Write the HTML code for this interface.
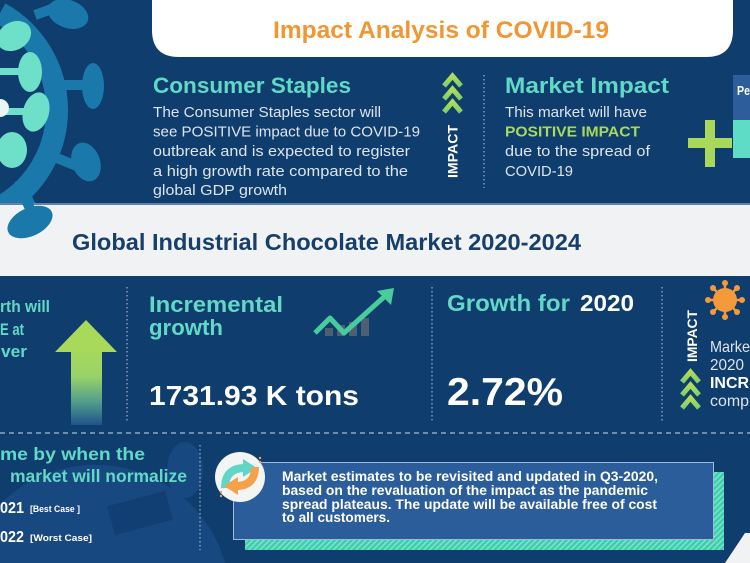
<!DOCTYPE html>
<html><head><meta charset="utf-8"><style>
html,body{margin:0;padding:0;background:#0f3d6e;width:750px;height:563px;overflow:hidden;}
svg{display:block;position:absolute;left:0;top:0;}
text{font-family:"Liberation Sans",Arial,sans-serif;}
</style></head><body>
<svg width="750" height="563" viewBox="0 0 750 563" xmlns="http://www.w3.org/2000/svg">
<defs>
<linearGradient id="shaft" x1="0" y1="0" x2="0" y2="1">
<stop offset="0" stop-color="#a6d95c"/><stop offset="0.35" stop-color="#98d268"/>
<stop offset="0.7" stop-color="#4f9a8c"/><stop offset="1" stop-color="#1f548a"/></linearGradient>
<pattern id="stripe" width="4" height="4" patternUnits="userSpaceOnUse" patternTransform="rotate(45)">
<rect width="4" height="4" fill="#3fcfae"/><rect width="1.2" height="4" fill="#8ce6d0"/></pattern>
<linearGradient id="chev" x1="0" y1="0" x2="0" y2="1"><stop offset="0" stop-color="#b2dc5a"/><stop offset="1" stop-color="#7fcf6a"/></linearGradient>
</defs>
<rect width="750" height="563" fill="#0f3d6e"/>
<!-- bottom-left faded silhouette -->
<path d="M0,563 L0,504 A135,135 0 0 1 225,563 Z" fill="#184880"/>
<ellipse cx="185" cy="470" rx="18" ry="28" fill="#184880"/>
<rect x="110" y="498" width="60" height="30" fill="#123f73" transform="rotate(-15 140 513)"/>
<!-- top virus -->
<g fill="#1a78ab">
<rect x="50" y="80" width="38" height="10"/>
<ellipse cx="93" cy="86" rx="11" ry="23"/>
<rect x="45" y="148" width="40" height="10" transform="rotate(22 45 150)"/>
<ellipse cx="86" cy="162" rx="14" ry="20" transform="rotate(-20 86 162)"/>
<ellipse cx="68" cy="14" rx="21" ry="14" transform="rotate(20 68 14)"/>
<rect x="35" y="10" width="30" height="10" transform="rotate(-20 35 15)"/>
<rect x="14" y="180" width="10" height="38" transform="rotate(-25 19 180)"/>
<ellipse cx="30" cy="222" rx="24" ry="14" transform="rotate(-25 30 222)"/>
</g>
<path d="M0,13 A111,111 0 0 1 0,207" fill="none" stroke="#1a78ab" stroke-width="22"/>
<g fill="#6ee0c9">
<ellipse cx="14" cy="36" rx="18" ry="14" transform="rotate(-30 14 36)"/>
<ellipse cx="30" cy="72" rx="12" ry="20"/>
<ellipse cx="36" cy="112" rx="13" ry="20" transform="rotate(15 36 112)"/>
<ellipse cx="12" cy="150" rx="15" ry="18"/>
<rect x="0" y="68" width="25" height="7"/><rect x="0" y="108" width="30" height="7"/>
</g>
<circle cx="0" cy="108" r="9" fill="#e8f6f6"/>
<!-- top card -->
<path d="M152,0 H733 V30 Q733,57 706,57 H179 Q152,57 152,30 Z" fill="#ffffff"/>
<text x="273" y="38" font-size="24" font-weight="bold" fill="#f39530" textLength="336" lengthAdjust="spacingAndGlyphs">Impact Analysis of COVID-19</text>
<!-- consumer staples -->
<text x="153" y="93" font-size="22.5" font-weight="bold" fill="#62d8c7" textLength="198" lengthAdjust="spacingAndGlyphs">Consumer Staples</text>
<g font-size="15" fill="#dde4ec">
<text x="153" y="117" textLength="228" lengthAdjust="spacingAndGlyphs">The Consumer Staples sector will</text>
<text x="153" y="136.5" textLength="267" lengthAdjust="spacingAndGlyphs">see POSITIVE impact due to COVID-19</text>
<text x="153" y="156" textLength="257" lengthAdjust="spacingAndGlyphs">outbreak and is expected to register</text>
<text x="153" y="176" textLength="255" lengthAdjust="spacingAndGlyphs">a high growth rate compared to the</text>
<text x="153" y="195" textLength="134" lengthAdjust="spacingAndGlyphs">global GDP growth</text>
</g>
<!-- chevrons 1 -->
<g fill="none" stroke="url(#chev)" stroke-width="5">
<polyline points="444,86 452.5,76 461,86"/><polyline points="444,99 452.5,89 461,99"/><polyline points="444,112 452.5,102 461,112"/>
</g>
<text transform="translate(457.5,178) rotate(-90)" font-size="14" font-weight="bold" fill="#ffffff" textLength="53" lengthAdjust="spacingAndGlyphs">IMPACT</text>
<line x1="484" y1="75" x2="484" y2="188" stroke="#9fb3cc" stroke-width="1.2" stroke-dasharray="1.5 2.5"/>
<!-- market impact -->
<text x="505" y="93" font-size="22.5" font-weight="bold" fill="#62d8c7" textLength="164" lengthAdjust="spacingAndGlyphs">Market Impact</text>
<g font-size="15" fill="#dde4ec">
<text x="505" y="117" textLength="142" lengthAdjust="spacingAndGlyphs">This market will have</text>
<text x="505" y="136.5" font-weight="bold" fill="#a8d95a" textLength="135" lengthAdjust="spacingAndGlyphs">POSITIVE IMPACT</text>
<text x="505" y="156" textLength="145" lengthAdjust="spacingAndGlyphs">due to the spread of</text>
<text x="505" y="176" textLength="68" lengthAdjust="spacingAndGlyphs">COVID-19</text>
</g>
<rect x="688" y="138" width="44" height="10" fill="#a8d95a"/>
<rect x="705" y="120" width="10" height="47" fill="#a8d95a"/>
<rect x="733" y="75" width="17" height="45" fill="#2d5d9b"/>
<rect x="733" y="120" width="17" height="38" fill="#5fdcc6"/>
<text x="737" y="95" font-size="13" font-weight="bold" fill="#ffffff" textLength="13" lengthAdjust="spacingAndGlyphs">Pe</text>
<!-- light band -->
<rect x="0" y="203" width="750" height="2" fill="#5f83ab"/>
<rect x="0" y="205" width="750" height="71" fill="#f0f2f4"/>
<ellipse cx="30" cy="222" rx="24" ry="14" transform="rotate(-25 30 222)" fill="#1a78ab"/>
<rect x="14" y="185" width="10" height="30" transform="rotate(-25 19 185)" fill="#1a78ab"/>
<text x="72" y="250" font-size="23" font-weight="bold" fill="#173f6b" textLength="509" lengthAdjust="spacingAndGlyphs">Global Industrial Chocolate Market 2020-2024</text>
<!-- middle section -->
<g font-size="17" font-weight="bold" fill="#62d8c7">
<text x="0" y="312" textLength="50" lengthAdjust="spacingAndGlyphs">rth will</text>
<text x="0" y="335" textLength="24" lengthAdjust="spacingAndGlyphs">E at</text>
<text x="1" y="357" textLength="26" lengthAdjust="spacingAndGlyphs">ver</text>
</g>
<polygon points="55,352 86,320 117,352" fill="#a8d95a"/>
<rect x="71" y="351" width="31" height="74" fill="url(#shaft)"/>
<g stroke="#9fb3cc" stroke-width="1.2" stroke-dasharray="1.5 2.5">
<line x1="127" y1="287" x2="127" y2="422"/><line x1="432" y1="287" x2="432" y2="422"/><line x1="662" y1="287" x2="662" y2="422"/>
</g>
<text x="149" y="312" font-size="22" font-weight="bold" fill="#62d8c7" textLength="134" lengthAdjust="spacingAndGlyphs">Incremental</text>
<text x="149" y="335" font-size="22" font-weight="bold" fill="#62d8c7" textLength="74" lengthAdjust="spacingAndGlyphs">growth</text>
<g fill="#4e5f73">
<rect x="325" y="328" width="8" height="8"/><rect x="337" y="325" width="8" height="11"/>
<rect x="349" y="322" width="8" height="14"/><rect x="361" y="318" width="8" height="18"/>
</g>
<polyline points="315,333 330,318 344,333 384,297" fill="none" stroke="#48cc9c" stroke-width="5" stroke-linejoin="round"/>
<polygon points="394,288 377,291 391,305" fill="#48cc9c"/>
<text x="149" y="405" font-size="28" font-weight="bold" fill="#ffffff" textLength="210" lengthAdjust="spacingAndGlyphs">1731.93 K tons</text>
<text x="447" y="311" font-size="23" font-weight="bold" fill="#62d8c7" textLength="123" lengthAdjust="spacingAndGlyphs">Growth for</text>
<text x="580" y="311" font-size="23" font-weight="bold" fill="#ffffff" textLength="54" lengthAdjust="spacingAndGlyphs">2020</text>
<text x="447" y="405" font-size="39" font-weight="bold" fill="#ffffff" textLength="116" lengthAdjust="spacingAndGlyphs">2.72%</text>
<text transform="translate(697,362) rotate(-90)" font-size="13.5" font-weight="bold" fill="#ffffff" textLength="52" lengthAdjust="spacingAndGlyphs">IMPACT</text>
<!-- orange virus -->
<g fill="#f59a3a" stroke="#f59a3a">
<circle cx="725" cy="300" r="12" stroke="none"/>
<g stroke-width="2.5">
<line x1="725" y1="300" x2="725" y2="283"/><line x1="725" y1="300" x2="725" y2="317"/>
<line x1="725" y1="300" x2="708" y2="300"/><line x1="725" y1="300" x2="742" y2="300"/>
<line x1="725" y1="300" x2="713" y2="288"/><line x1="725" y1="300" x2="737" y2="312"/>
<line x1="725" y1="300" x2="737" y2="288"/><line x1="725" y1="300" x2="713" y2="312"/>
</g>
<g stroke="none"><circle cx="725" cy="283" r="3"/><circle cx="725" cy="317" r="3"/><circle cx="708" cy="300" r="3"/><circle cx="742" cy="300" r="3"/>
<circle cx="713" cy="288" r="3"/><circle cx="737" cy="312" r="3"/><circle cx="737" cy="288" r="3"/><circle cx="713" cy="312" r="3"/></g>
</g>
<g fill="none" stroke="url(#chev)" stroke-width="5">
<polyline points="682,382 690.5,372 699,382"/><polyline points="682,395 690.5,385 699,395"/><polyline points="682,408 690.5,398 699,408"/>
</g>
<g font-size="16" fill="#dde4ec">
<text x="710" y="352" textLength="40" lengthAdjust="spacingAndGlyphs">Marke</text>
<text x="710" y="370" textLength="34" lengthAdjust="spacingAndGlyphs">2020</text>
<text x="710" y="388" font-weight="bold" fill="#ffffff" textLength="39" lengthAdjust="spacingAndGlyphs">INCR</text>
<text x="710" y="406" textLength="39" lengthAdjust="spacingAndGlyphs">comp</text>
</g>
<!-- bottom -->
<line x1="0" y1="433" x2="750" y2="433" stroke="#a9bcd2" stroke-width="1.2" stroke-dasharray="5 4"/>
<line x1="200" y1="445" x2="200" y2="550" stroke="#9fb3cc" stroke-width="1.2" stroke-dasharray="1.5 2.5"/>
<text x="0" y="460" font-size="17.5" font-weight="bold" fill="#62d8c7" textLength="145" lengthAdjust="spacingAndGlyphs">me by when the</text>
<text x="10" y="482" font-size="17.5" font-weight="bold" fill="#62d8c7" textLength="177" lengthAdjust="spacingAndGlyphs">market will normalize</text>
<text x="0" y="513" font-size="16" font-weight="bold" fill="#ffffff" textLength="24" lengthAdjust="spacingAndGlyphs">021</text>
<text x="30" y="512" font-size="9" font-weight="bold" fill="#ffffff" textLength="50" lengthAdjust="spacingAndGlyphs">[Best Case ]</text>
<text x="0" y="542" font-size="16" font-weight="bold" fill="#ffffff" textLength="24" lengthAdjust="spacingAndGlyphs">022</text>
<text x="30" y="541" font-size="9" font-weight="bold" fill="#ffffff" textLength="62" lengthAdjust="spacingAndGlyphs">[Worst Case]</text>
<rect x="245" y="472" width="479" height="78" fill="url(#stripe)"/>
<rect x="233.5" y="462.5" width="480" height="77" fill="#2b5d9b" stroke="#9db9dc" stroke-width="1"/>
<circle cx="240" cy="477" r="25" fill="#f3f4f4"/>
<path d="M225,488 Q225,468 245,468" fill="none" stroke="#62d6c6" stroke-width="8"/>
<polygon points="243,459 257,468 243,477" fill="#62d6c6"/>
<path d="M255,467 Q255,486 236,486" fill="none" stroke="#f5a04a" stroke-width="8"/>
<polygon points="238,477 224,486 238,495" fill="#f5a04a"/>
<g fill="#f5a04a"><circle cx="260" cy="462" r="1.2"/><circle cx="260" cy="458" r="1.2"/><circle cx="221" cy="492" r="1.2"/><circle cx="221" cy="496" r="1.2"/></g>
<g font-size="13.6" font-weight="bold" fill="#ffffff">
<text x="282" y="481" textLength="376" lengthAdjust="spacingAndGlyphs">Market estimates to be revisited and updated in Q3-2020,</text>
<text x="282" y="495" textLength="366" lengthAdjust="spacingAndGlyphs">based on the revaluation of the impact as the pandemic</text>
<text x="282" y="509" textLength="375" lengthAdjust="spacingAndGlyphs">spread plateaus. The update will be available free of cost</text>
<text x="282" y="522" textLength="108" lengthAdjust="spacingAndGlyphs">to all customers.</text>
</g>
<polygon points="725,563 745,533 750,533 750,563" fill="#f0f2f4"/>
</svg>
</body></html>
